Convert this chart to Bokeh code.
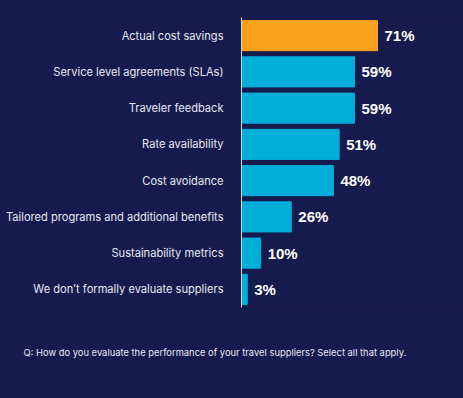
from bokeh.plotting import figure
from bokeh.models import ColumnDataSource, FactorRange, Title
from bokeh.embed import file_html
from bokeh.resources import INLINE
from bokeh.core.properties import value

categories = [
    "Actual cost savings",
    "Service level agreements (SLAs)",
    "Traveler feedback",
    "Rate availability",
    "Cost avoidance",
    "Tailored programs and additional benefits",
    "Sustainability metrics",
    "We don\u2019t formally evaluate suppliers",
]
values = [71, 59, 59, 51, 48, 26, 10, 3]
labels = ["71%", "59%", "59%", "51%", "48%", "26%", "10%", "3%"]
colors = ["#FBA11E"] + ["#00AEDA"] * 7
question = "Q: How do you evaluate the performance of your travel suppliers? Select all that apply."

BG = "#161B4E"
W, H = 463, 398
left, right, top, bottom = 241, 10, 17, 91
frame_w = W - left - right

src = ColumnDataSource(dict(cat=categories, val=values, lab=labels, col=colors))

p = figure(width=W, height=H, output_backend="svg", toolbar_location=None,
           y_range=FactorRange(*reversed(categories)),
           x_range=(0, frame_w / 1.915),
           min_border_left=left, min_border_right=right,
           min_border_top=top, min_border_bottom=bottom)
p.background_fill_color = BG
p.border_fill_color = BG
p.outline_line_color = None
p.grid.visible = False
p.xaxis.visible = False
p.y_range.range_padding = 0

p.hbar(y="cat", right="val", left=0, height=0.83, color="col", source=src)
p.text(x="val", y="cat", text="lab", source=src, x_offset=7,
       text_baseline="middle", text_align="left", text_color="white",
       text_font=value("Liberation Sans"), text_font_style="bold",
       text_font_size="15px")

ya = p.yaxis[0]
ya.axis_line_color = "#D8D8E0"
ya.axis_line_width = 1
ya.major_tick_line_color = None
ya.minor_tick_line_color = None
ya.major_label_standoff = 12
ya.major_label_text_color = "#E6E8F2"
ya.major_label_text_font = "Inter"
ya.major_label_text_font_size = "11.1px"

p.add_layout(Title(text=question, align="left", offset=-218, standoff=74,
                   text_color="#E6E8F2", text_font="Inter",
                   text_font_size="9.4px", text_font_style="normal"), "below")

html = file_html(p, INLINE)
html = html.replace("</head>",
                    "<style>html, body { background: %s; }</style></head>" % BG, 1)
open("out.html", "w").write(html)
